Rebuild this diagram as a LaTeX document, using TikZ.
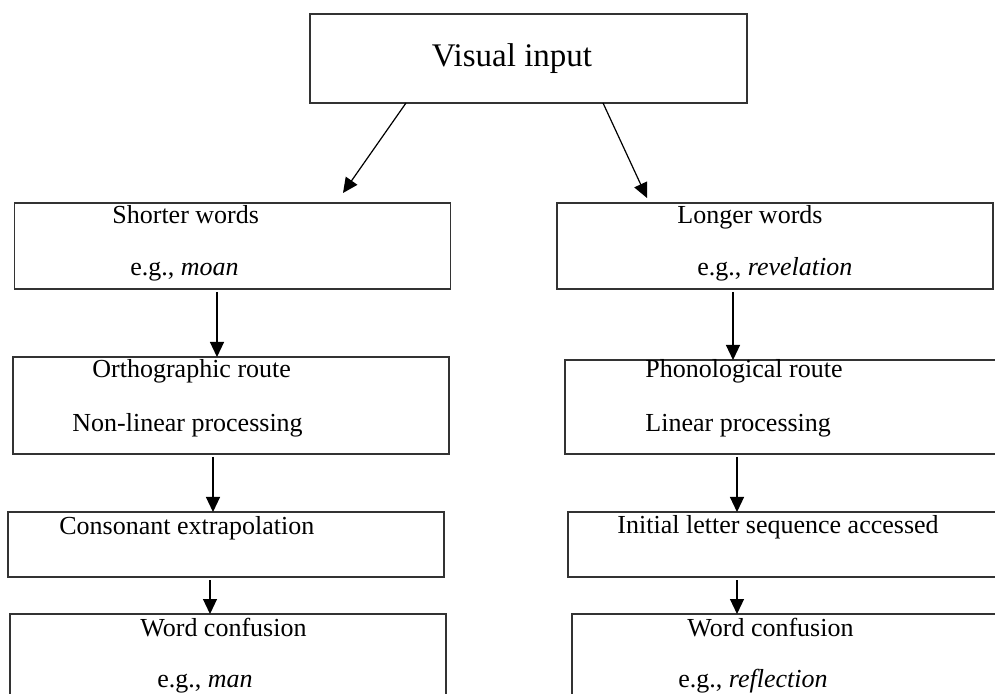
\documentclass[tikz,border=0pt]{standalone}
\usepackage{fontspec}
\setmainfont{Liberation Serif}
\usetikzlibrary{arrows.meta,positioning}
\tikzset{
  box/.style={draw=black!80, line width=0.8pt, inner sep=0pt, outer sep=0pt, minimum width=218pt},
  lbl/.style={anchor=base west, inner sep=0pt, font=\fontsize{13}{15}\selectfont},
  arr/.style={-{Triangle[width=7pt,length=7.5pt]}, line width=0.6pt, black, shorten <=1.5pt},
}
\begin{document}
\begin{tikzpicture}[x=0.5pt, y=-0.5pt]
  \clip (0,0) rectangle (995,694);
  \fill[white] (0,0) rectangle (995,694);
  % boxes
  \node[box, minimum width=218.5pt, minimum height=44.5pt] (top) at (528.5,58.5) {};
  \node[box, minimum height=43pt] (short) at (232.5,246) {};
  \node[box, minimum height=43pt] (long) at (775,246) {};
  \node[box, minimum height=48.5pt] (orth) at (231,405.5) {};
  \node[box, minimum height=47pt] (phon) at (783,407) {};
  \node[box, minimum height=32.5pt] (cons) at (226,544.5) {};
  \node[box, minimum height=32.5pt] (init) at (786,544.5) {};
  \node[box, minimum height=48.5pt] (confl) at (228,662.5) {};
  \node[box, minimum height=48.5pt] (confr) at (790,662.5) {};
  % texts
  \node[anchor=base, inner sep=0pt, font=\fontsize{16.5}{19}\selectfont] (toptxt) at (512,67) {Visual input};
  \node[lbl] (shorttxt) at (112,224) {Shorter words};
  \node[lbl] (shortex) at (130,276) {e.g., \textit{moan}};
  \node[lbl] (longtxt) at (677,224) {Longer words};
  \node[lbl] (longex) at (697,276) {e.g., \textit{revelation}};
  \node[lbl] (orthtxt) at (92,378) {Orthographic route};
  \node[lbl] (orthproc) at (72,432) {Non-linear processing};
  \node[lbl] (phontxt) at (645,378) {Phonological route};
  \node[lbl] (phonproc) at (645,432) {Linear processing};
  \node[lbl] (constxt) at (59,534) {Consonant extrapolation};
  \node[lbl] (inittxt) at (617,533) {Initial letter sequence accessed};
  \node[lbl] (confltxt) at (140,636) {Word confusion};
  \node[lbl] (conflex) at (157,687) {e.g., \textit{man}};
  \node[lbl] (confrtxt) at (687,636) {Word confusion};
  \node[lbl] (confrex) at (678,687) {e.g., \textit{reflection}};
  % arrows
  \coordinate (tl) at (343,193);
  \coordinate (tr) at (647,198);
  \draw[arr, shorten <=0pt] ([xshift=-61.25pt]top.south) -- (tl);
  \draw[arr, shorten <=0pt] ([xshift=37.25pt]top.south) -- (tr);
  \draw[arr] ([xshift=-7.75pt]short.south) -- ([xshift=-7pt]orth.north);
  \draw[arr] ([xshift=-9pt]orth.south) -- ([xshift=-6.5pt]cons.north);
  \draw[arr] ([xshift=-8pt]cons.south) -- ([xshift=-9pt]confl.north);
  \draw[arr] ([xshift=-21pt]long.south) -- ([xshift=-25pt]phon.north);
  \draw[arr] ([xshift=-23pt]phon.south) -- ([xshift=-24.5pt]init.north);
  \draw[arr] ([xshift=-24.5pt]init.south) -- ([xshift=-26.5pt]confr.north);
\end{tikzpicture}
\end{document}
